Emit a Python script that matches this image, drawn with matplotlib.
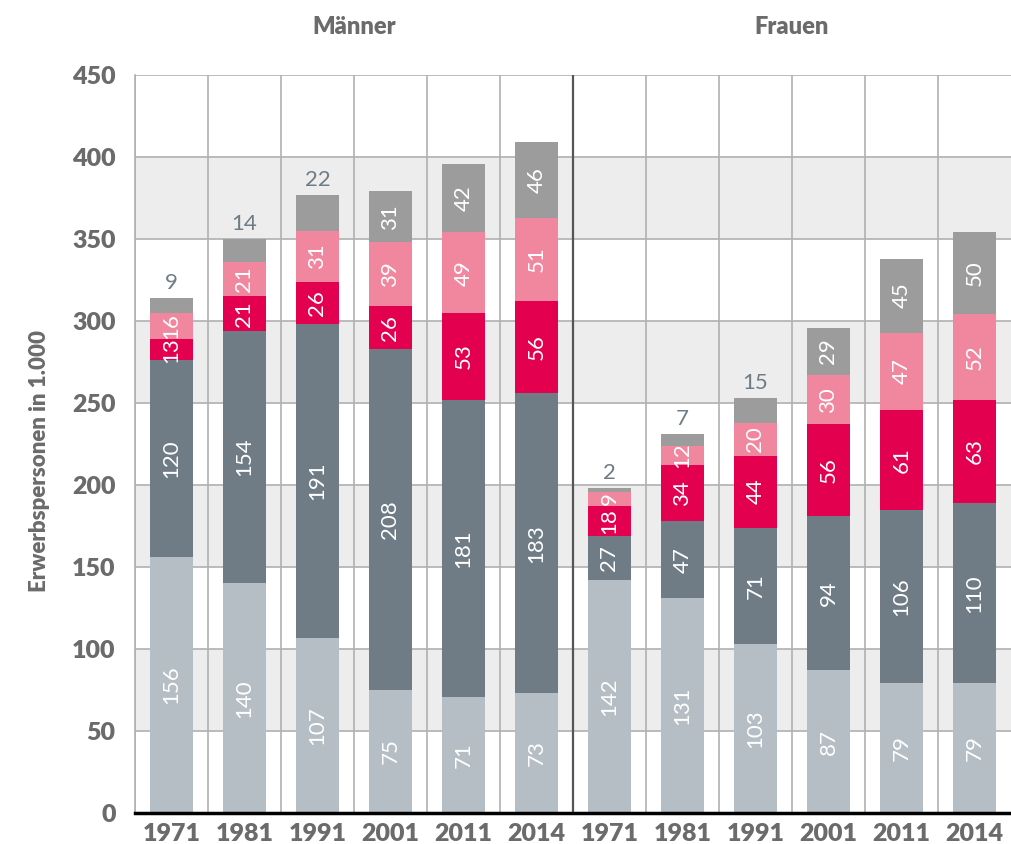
import numpy as np
import matplotlib.pyplot as plt

years = ['1971', '1981', '1991', '2001', '2011', '2014']
labels = years + years

seg1 = [156, 140, 107, 75, 71, 73, 142, 131, 103, 87, 79, 79]
seg2 = [120, 154, 191, 208, 181, 183, 27, 47, 71, 94, 106, 110]
seg3 = [13, 21, 26, 26, 53, 56, 18, 34, 44, 56, 61, 63]
seg4 = [16, 21, 31, 39, 49, 51, 9, 12, 20, 30, 47, 52]
seg5 = [9, 14, 22, 31, 42, 46, 2, 7, 15, 29, 45, 50]

colors = ['#b5bec4', '#6f7c85', '#e3004f', '#f0879f', '#9c9c9c']
grey_txt = '#6b6b6b'

plt.rcParams['font.family'] = ['Lato', 'DejaVu Sans']

fig = plt.figure(figsize=(10.11, 8.44), dpi=100)
ax = fig.add_axes([0.1335, 0.0367, 0.8665, 0.8744])

x = np.arange(len(labels))
ax.set_xlim(-0.5, 11.5)
ax.set_ylim(0, 450)

# background bands
for lo in range(50, 450, 100):
    ax.axhspan(lo, lo + 50, color='#ededed', zorder=0, lw=0)
for y in range(50, 451, 50):
    ax.axhline(y, color='#b0b0b0', lw=1.2, zorder=1)
for k in range(0, 12):
    if k == 6:
        ax.axvline(k - 0.5, color='#555555', lw=1.6, zorder=1)
    else:
        ax.axvline(k - 0.5, color='#b0b0b0', lw=1.2, zorder=1)

bottom = np.zeros(len(labels))
series = [seg1, seg2, seg3, seg4, seg5]
for i, s in enumerate(series):
    s = np.array(s)
    ax.bar(x, s, bottom=bottom, width=0.59, color=colors[i], zorder=2, lw=0)
    for xi, b, v in zip(x, bottom, s):
        if i == 4 and v < 25:
            ax.text(xi, b + v + 3, str(v), ha='center', va='bottom',
                    color='#6f7c85', fontsize=16, zorder=3)
        else:
            ax.text(xi, b + v / 2, str(v), ha='center', va='center',
                    rotation=90, color='white', fontsize=16, zorder=3)
    bottom = bottom + s

for sp in ['top', 'right']:
    ax.spines[sp].set_visible(False)
ax.spines['left'].set_color('#b0b0b0')
ax.spines['left'].set_linewidth(1.2)
ax.spines['bottom'].set_color('black')
ax.spines['bottom'].set_linewidth(2.5)
ax.spines['bottom'].set_zorder(4)

ax.set_xticks(x)
ax.set_xticklabels(labels, fontsize=18, fontweight='heavy', color=grey_txt)
ax.set_yticks(range(0, 451, 50))
ax.set_yticklabels([str(v) for v in range(0, 451, 50)], fontsize=18,
                   fontweight='heavy', color=grey_txt)
ax.tick_params(length=0)
ax.tick_params(axis='x', pad=7)
ax.tick_params(axis='y', pad=14)
ax.set_ylabel('Erwerbspersonen in 1.000', fontsize=16, fontweight='heavy',
              color=grey_txt)
ax.yaxis.set_label_coords(-0.097, 0.477)

ax.text(2.5, 479, 'Männer', ha='center', va='center', fontsize=17,
        fontweight='heavy', color=grey_txt)
ax.text(8.5, 479, 'Frauen', ha='center', va='center', fontsize=17,
        fontweight='heavy', color=grey_txt)

fig.savefig('out.png', dpi=100)
